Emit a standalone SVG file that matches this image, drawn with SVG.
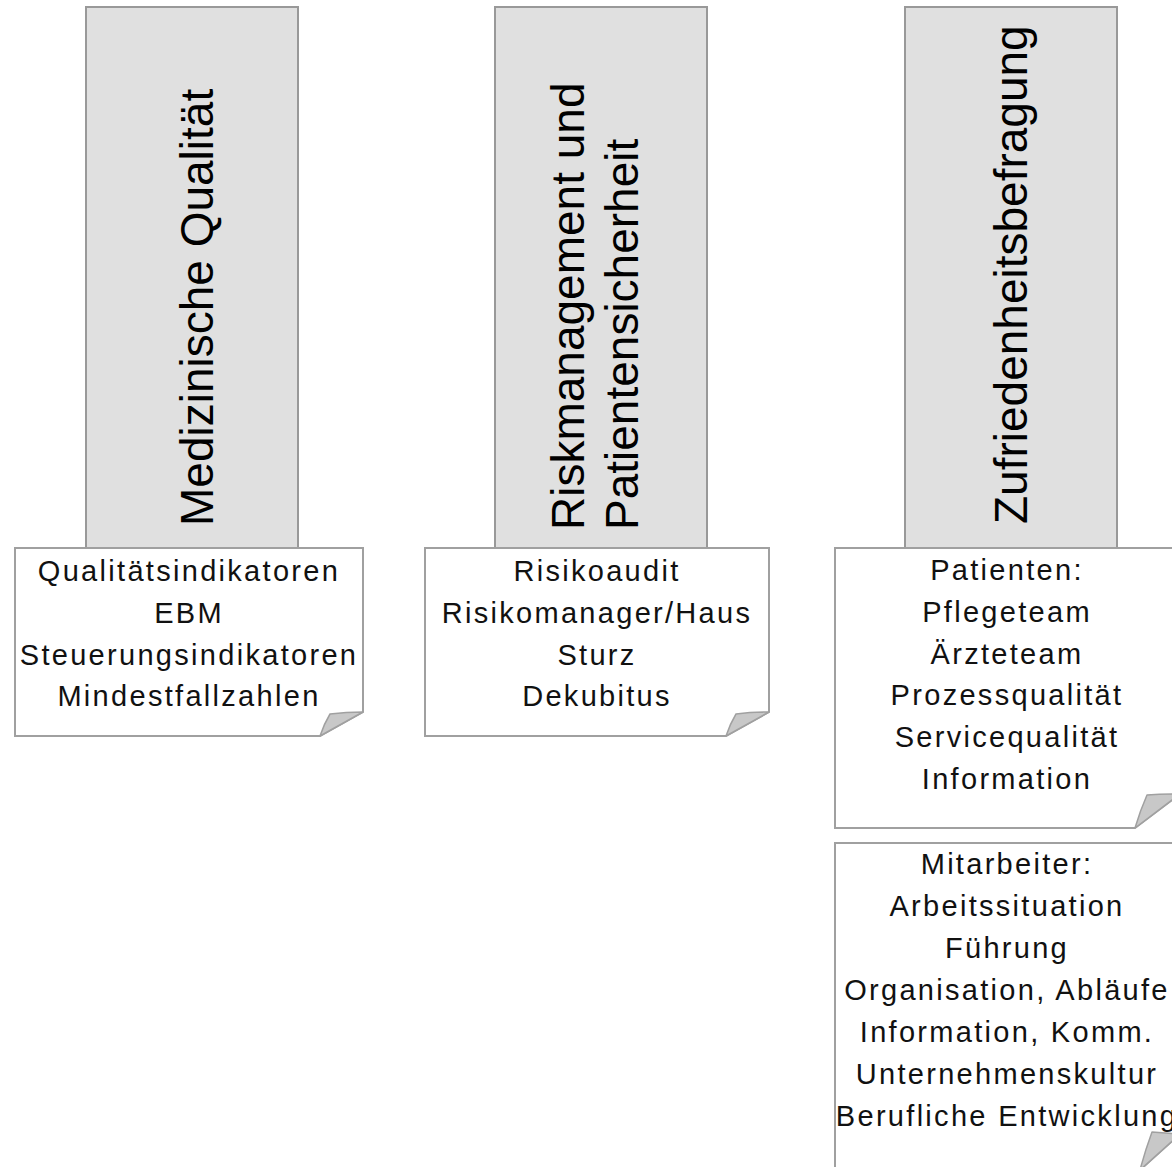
<svg xmlns="http://www.w3.org/2000/svg" width="1172" height="1167" viewBox="0 0 1172 1167">
<style>
.bg{fill:#ffffff}
.hdr{fill:#e0e0e0;stroke:#999999;stroke-width:2}
.note{fill:#ffffff;stroke:#a0a0a0;stroke-width:2}
.fold{fill:#c8c8c8;stroke:#a0a0a0;stroke-width:1.5;stroke-linejoin:round}
.ttl{font-family:"Liberation Sans",Arial,sans-serif;font-size:46px;fill:#000}
.txt{font-family:"Liberation Sans",Arial,sans-serif;font-size:29px;letter-spacing:2.3px;fill:#111;text-anchor:middle}
</style>
<rect class="bg" x="0" y="0" width="1172" height="1167"/>

<g id="header-medizin">
  <rect class="hdr" x="86" y="7" width="212" height="541"/>
  <text class="ttl" transform="translate(213,526) rotate(-90)">Medizinische Qualität</text>
</g>
<g id="header-risiko">
  <rect class="hdr" x="495" y="7" width="212" height="541"/>
  <text class="ttl" transform="translate(584,530) rotate(-90)">Riskmanagement und</text>
  <text class="ttl" transform="translate(638,530) rotate(-90)">Patientensicherheit</text>
</g>
<g id="header-zufriedenheit">
  <rect class="hdr" x="905" y="7" width="212" height="541"/>
  <text class="ttl" transform="translate(1027,524) rotate(-90)">Zufriedenheitsbefragung</text>
</g>

<g id="note-medizin">
  <path class="note" d="M15,548 H363 V712 L320,736 H15 Z"/>
  <path class="fold" d="M320,736 Q324,724 330,714 Q346,712 363,712 Z"/>
  <text class="txt" x="189" y="581">Qualitätsindikatoren</text>
  <text class="txt" x="189" y="623">EBM</text>
  <text class="txt" x="189" y="665">Steuerungsindikatoren</text>
  <text class="txt" x="189" y="706">Mindestfallzahlen</text>
</g>
<g id="note-risiko">
  <path class="note" d="M425,548 H769 V712 L726,736 H425 Z"/>
  <path class="fold" d="M726,736 Q730,724 736,714 Q752,712 769,712 Z"/>
  <text class="txt" x="597" y="581">Risikoaudit</text>
  <text class="txt" x="597" y="623">Risikomanager/Haus</text>
  <text class="txt" x="597" y="665">Sturz</text>
  <text class="txt" x="597" y="706">Dekubitus</text>
</g>
<g id="note-patienten">
  <path class="note" d="M835,548 H1180 V794 L1135,828 H835 Z"/>
  <path class="fold" d="M1135,828 Q1140,811 1147,795 Q1163,794 1180,794 Z"/>
  <text class="txt" x="1007" y="580">Patienten:</text>
  <text class="txt" x="1007" y="622">Pflegeteam</text>
  <text class="txt" x="1007" y="664">Ärzteteam</text>
  <text class="txt" x="1007" y="705">Prozessqualität</text>
  <text class="txt" x="1007" y="747">Servicequalität</text>
  <text class="txt" x="1007" y="789">Information</text>
</g>
<g id="note-mitarbeiter">
  <path class="note" d="M835,843 H1180 V1134 L1140,1170 H835 Z"/>
  <path class="fold" d="M1140,1170 Q1145,1151 1152,1132 Q1166,1133 1180,1134 Z"/>
  <text class="txt" x="1007" y="874">Mitarbeiter:</text>
  <text class="txt" x="1007" y="916">Arbeitssituation</text>
  <text class="txt" x="1007" y="958">Führung</text>
  <text class="txt" x="1007" y="1000">Organisation, Abläufe</text>
  <text class="txt" x="1007" y="1042">Information, Komm.</text>
  <text class="txt" x="1007" y="1084">Unternehmenskultur</text>
  <text class="txt" x="1007" y="1126">Berufliche Entwicklung</text>
</g>
<g id="connectors"></g>
</svg>
